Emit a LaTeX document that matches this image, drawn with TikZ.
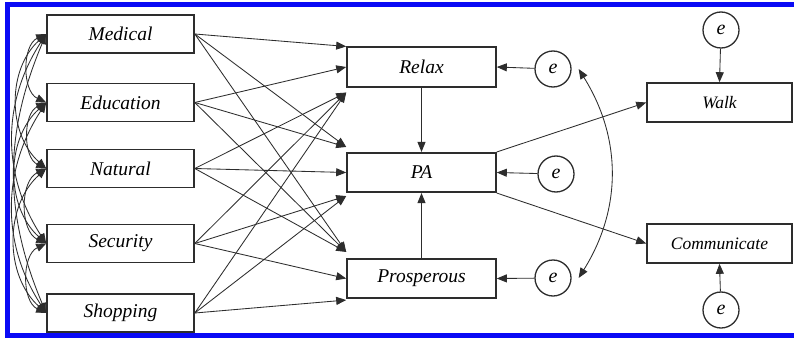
\documentclass[tikz,border=0pt]{standalone}
\usepackage{fontspec}
\setmainfont{Liberation Serif}
\usetikzlibrary{arrows.meta}
\definecolor{framecol}{RGB}{10,10,245}
\definecolor{ink}{RGB}{45,45,45}
\begin{document}
\begin{tikzpicture}[x=1pt,y=-1pt,
  box/.style={draw=ink, line width=1.6pt, minimum width=147pt, minimum height=38pt, inner sep=0pt, font=\fontsize{19.5}{22}\selectfont\itshape},
  mbox/.style={box, minimum width=149pt, minimum height=39.5pt},
  rbox/.style={box, minimum width=145pt, minimum height=39pt, font=\fontsize{17.5}{20}\selectfont\itshape},
  err/.style={draw=ink, circle, line width=1.3pt, minimum size=36pt, inner sep=0pt, font=\fontsize{20}{22}\selectfont\itshape},
  tip/.tip={Triangle[length=10pt,width=8pt]},
  arr/.style={-tip, line width=0.85pt, draw=ink},
  cov/.style={tip-tip, line width=0.85pt, draw=ink}]
\useasboundingbox (0,0) rectangle (794,342);
\clip (0,0) rectangle (794,342);
\fill[white] (0,0) rectangle (794,342);
\draw[framecol, line width=5pt] (7.5,4.5) rectangle (820,335.5);

% left boxes
\node[box] (med) at (120.5,34) {Medical};
\node[box] (edu) at (120.5,102.5) {Education};
\node[box] (nat) at (120.5,168.5) {Natural};
\node[box] (sec) at (120.5,243.5) {Security};
\node[box] (sho) at (120.5,313) {Shopping};

% middle boxes
\node[mbox] (rel) at (421.5,67) {Relax};
\node[mbox] (pa) at (421.5,172.5) {PA};
\node[mbox] (pro) at (421.5,278.5) {Prosperous};

% right boxes
\node[rbox] (walk) at (719.5,102.5) {Walk};
\node[rbox] (com) at (719.5,243.5) {Communicate};

% error terms
\node[err] (e1) at (553,69) {e};
\node[err] (e2) at (556,174) {e};
\node[err] (e3) at (553,278) {e};
\node[err] (e4) at (721,30) {e};
\node[err] (e5) at (721,310) {e};

% arrow tip points
\coordinate (r1) at (rel.north west);
\coordinate (r2) at (rel.west);
\coordinate (r3) at ([yshift=-5pt]rel.south west);
\coordinate (p1) at ([yshift=5pt]pa.north west);
\coordinate (p2) at (pa.west);
\coordinate (p3) at ([yshift=-3pt]pa.south west);
\coordinate (q1) at ([yshift=6pt]pro.north west);
\coordinate (q2) at (pro.west);
\coordinate (q3) at ([yshift=-1pt]pro.south west);

% left to middle
\draw[arr] (med.east) -- (r1);
\draw[arr] (med.east) -- (p1);
\draw[arr] (med.east) -- (q1);
\draw[arr] (edu.east) -- (r2);
\draw[arr] (edu.east) -- (p1);
\draw[arr] (edu.east) -- (q1);
\draw[arr] (nat.east) -- (r3);
\draw[arr] (nat.east) -- (p2);
\draw[arr] (nat.east) -- (q1);
\draw[arr] (sec.east) -- (r3);
\draw[arr] (sec.east) -- (p3);
\draw[arr] (sec.east) -- (q2);
\draw[arr] (sho.east) -- (r3);
\draw[arr] (sho.east) -- (p3);
\draw[arr] (sho.east) -- (q3);

% middle
\draw[arr] (rel.south) -- (pa.north);
\draw[arr] (pro.north) -- (pa.south);
\draw[arr] (e1) -- (rel.east);
\draw[arr] (e2) -- (pa.east);
\draw[arr] (e3) -- (pro.east);
\draw[arr] (pa.north east) -- (walk.west);
\draw[arr] (pa.south east) -- (com.west);
\draw[arr] (e4) -- (walk.north);
\draw[arr] (e5) -- (com.south);
\draw[cov] ([xshift=7pt]e1.east) to[out=-58,in=58] ([xshift=7pt]e3.east);

% covariances among left boxes
\draw[cov] (med.west) to[out=205,in=155] (edu.west);
\draw[cov] (edu.west) to[out=205,in=155] (nat.west);
\draw[cov] (nat.west) to[out=205,in=155] (sec.west);
\draw[cov] (sec.west) to[out=205,in=155] (sho.west);
\draw[cov] (med.west) to[out=222,in=138] (nat.west);
\draw[cov] (edu.west) to[out=222,in=138] (sec.west);
\draw[cov] (nat.west) to[out=222,in=138] (sho.west);
\draw[cov] (med.west) to[out=237,in=123] (sec.west);
\draw[cov] (edu.west) to[out=237,in=123] (sho.west);
\draw[cov] (med.west) to[out=247,in=113] (sho.west);
\end{tikzpicture}
\end{document}
